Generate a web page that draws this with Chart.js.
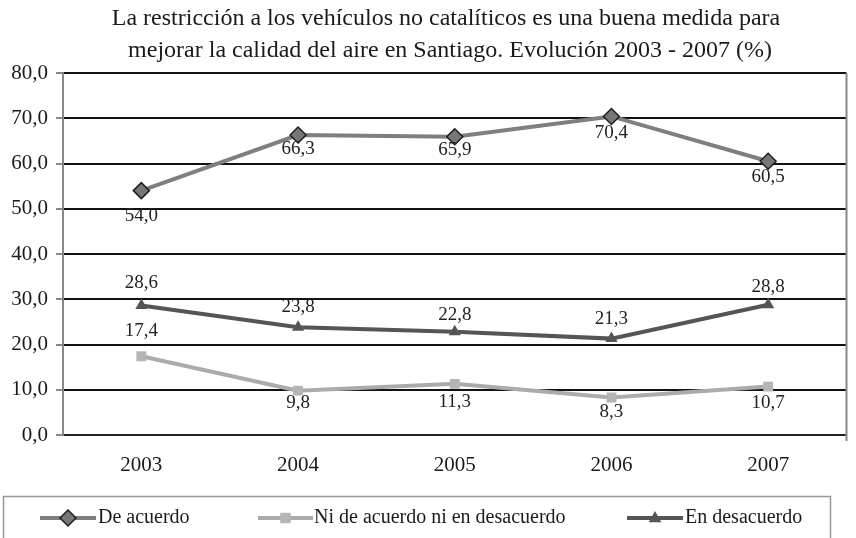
<!DOCTYPE html>
<html>
<head>
<meta charset="utf-8">
<script src="https://cdn.jsdelivr.net/npm/chart.js@4"></script>
<style>
html,body{margin:0;padding:0;background:#fff;}
canvas{display:block;}
</style>
</head>
<body>
<canvas id="c" width="856" height="538"></canvas>
<script>
const categories = ['2003', '2004', '2005', '2006', '2007'];
const deAcuerdo = [54.0, 66.3, 65.9, 70.4, 60.5];
const niDeAcuerdo = [17.4, 9.8, 11.3, 8.3, 10.7];
const enDesacuerdo = [28.6, 23.8, 22.8, 21.3, 28.8];
const seriesNames = ['De acuerdo', 'Ni de acuerdo ni en desacuerdo', 'En desacuerdo'];
const titleLines = ['La restricción a los vehículos no catalíticos es una buena medida para',
                    'mejorar la calidad del aire en Santiago. Evolución 2003 - 2007 (%)'];
const yTicks = [0, 10, 20, 30, 40, 50, 60, 70, 80];

const SERIF = '"Liberation Serif", "DejaVu Serif", serif';
const fmt = v => v.toFixed(1).replace('.', ',');

// vertical label offsets (px) relative to each point
const labelOffsets = [
  [25, 14, 13, 17, 16],
  [-25, 12, 18, 15, 16],
  [-23, -20, -17, -20, -18]
];

const titlePlugin = {
  id: 'titlePlugin',
  afterDraw(chart) {
    const ctx = chart.ctx;
    ctx.save();
    ctx.fillStyle = '#1a1a1a';
    ctx.font = '24px ' + SERIF;
    ctx.textAlign = 'center';
    ctx.textBaseline = 'middle';
    ctx.fillText(titleLines[0], 446, 19);
    ctx.fillText(titleLines[1], 450, 51);
    ctx.restore();
  }
};

const borderPlugin = {
  id: 'borderPlugin',
  afterDraw(chart) {
    const {ctx, chartArea} = chart;
    ctx.save();
    ctx.strokeStyle = '#888';
    ctx.lineWidth = 2;
    ctx.beginPath();
    ctx.moveTo(chartArea.right, chartArea.top);
    ctx.lineTo(chartArea.right, chartArea.bottom + 6);
    ctx.stroke();
    ctx.restore();
  }
};

const labelPlugin = {
  id: 'labelPlugin',
  afterDatasetsDraw(chart) {
    const ctx = chart.ctx;
    ctx.save();
    ctx.font = '19px ' + SERIF;
    ctx.fillStyle = '#222';
    ctx.textAlign = 'center';
    ctx.textBaseline = 'middle';
    chart.data.datasets.forEach((ds, di) => {
      const meta = chart.getDatasetMeta(di);
      meta.data.forEach((pt, i) => {
        ctx.fillText(fmt(ds.data[i]), pt.x, pt.y + labelOffsets[di][i]);
      });
    });
    ctx.restore();
  }
};

function drawMarker(ctx, style, r, x, y) {
  if (style === 'rectRot') {
    ctx.moveTo(x, y - r); ctx.lineTo(x + r, y); ctx.lineTo(x, y + r); ctx.lineTo(x - r, y); ctx.closePath();
  } else if (style === 'rect') {
    const s = r * 0.75;
    ctx.rect(x - s, y - s, 2 * s, 2 * s);
  } else {
    ctx.moveTo(x, y - r); ctx.lineTo(x + r * 0.9, y + r * 0.6); ctx.lineTo(x - r * 0.9, y + r * 0.6); ctx.closePath();
  }
}

const legendPlugin = {
  id: 'legendPlugin',
  afterDraw(chart) {
    const ctx = chart.ctx;
    ctx.save();
    ctx.strokeStyle = '#999';
    ctx.lineWidth = 1.5;
    ctx.strokeRect(3.5, 496.5, 827, 50);
    const y = 518;
    const items = [
      {x0: 40, x1: 96, tx: 98},
      {x0: 258, x1: 313, tx: 314},
      {x0: 627, x1: 683, tx: 685}
    ];
    chart.data.datasets.forEach((ds, i) => {
      const it = items[i];
      ctx.strokeStyle = ds.borderColor;
      ctx.lineWidth = 4;
      ctx.beginPath();
      ctx.moveTo(it.x0, y);
      ctx.lineTo(it.x1, y);
      ctx.stroke();
      ctx.fillStyle = ds.pointBackgroundColor;
      ctx.strokeStyle = ds.pointBorderColor;
      ctx.lineWidth = ds.pointBorderWidth;
      ctx.beginPath();
      drawMarker(ctx, ds.pointStyle, ds.pointRadius, (it.x0 + it.x1) / 2, y);
      ctx.fill();
      if (ds.pointBorderWidth > 0) ctx.stroke();
      ctx.fillStyle = '#1a1a1a';
      ctx.font = '20px ' + SERIF;
      ctx.textAlign = 'left';
      ctx.textBaseline = 'middle';
      ctx.fillText(seriesNames[i], it.tx, y);
    });
    ctx.restore();
  }
};

new Chart(document.getElementById('c'), {
  type: 'line',
  data: {
    labels: categories,
    datasets: [
      {
        label: seriesNames[0], data: deAcuerdo,
        borderColor: '#7f7f7f', borderWidth: 4,
        pointStyle: 'rectRot', pointRadius: 8, pointHoverRadius: 8,
        pointBackgroundColor: '#777', pointBorderColor: '#1e1e1e', pointBorderWidth: 1.5,
        tension: 0
      },
      {
        label: seriesNames[1], data: niDeAcuerdo,
        borderColor: '#ababab', borderWidth: 4,
        pointStyle: 'rect', pointRadius: 7, pointHoverRadius: 7,
        pointBackgroundColor: '#b5b5b5', pointBorderColor: '#b5b5b5', pointBorderWidth: 0,
        tension: 0
      },
      {
        label: seriesNames[2], data: enDesacuerdo,
        borderColor: '#555', borderWidth: 4,
        pointStyle: 'triangle', pointRadius: 7, pointHoverRadius: 7,
        pointBackgroundColor: '#555', pointBorderColor: '#555', pointBorderWidth: 0,
        tension: 0
      }
    ]
  },
  options: {
    responsive: false,
    animation: false,
    devicePixelRatio: 1,
    layout: {padding: {top: 73, right: 4, left: 0, bottom: 0}},
    plugins: {legend: {display: false}, tooltip: {enabled: false}, title: {display: false}},
    scales: {
      x: {
        type: 'category',
        offset: true,
        grid: {display: false, drawTicks: false},
        border: {display: true, color: '#222', width: 2},
        ticks: {font: {family: SERIF, size: 21}, color: '#1a1a1a', padding: 18},
        afterFit(s) { s.height = 103; }
      },
      y: {
        min: 0, max: 80,
        afterBuildTicks(s) { s.ticks = yTicks.map(v => ({value: v})); },
        grid: {color: '#111', lineWidth: 2, tickColor: '#888', tickLength: 7},
        border: {display: true, color: '#888', width: 2},
        ticks: {font: {family: SERIF, size: 21}, color: '#1a1a1a', padding: 8,
                callback: v => fmt(v)},
        afterFit(s) { s.width = 63; }
      }
    }
  },
  plugins: [titlePlugin, borderPlugin, labelPlugin, legendPlugin]
});
</script>
</body>
</html>
